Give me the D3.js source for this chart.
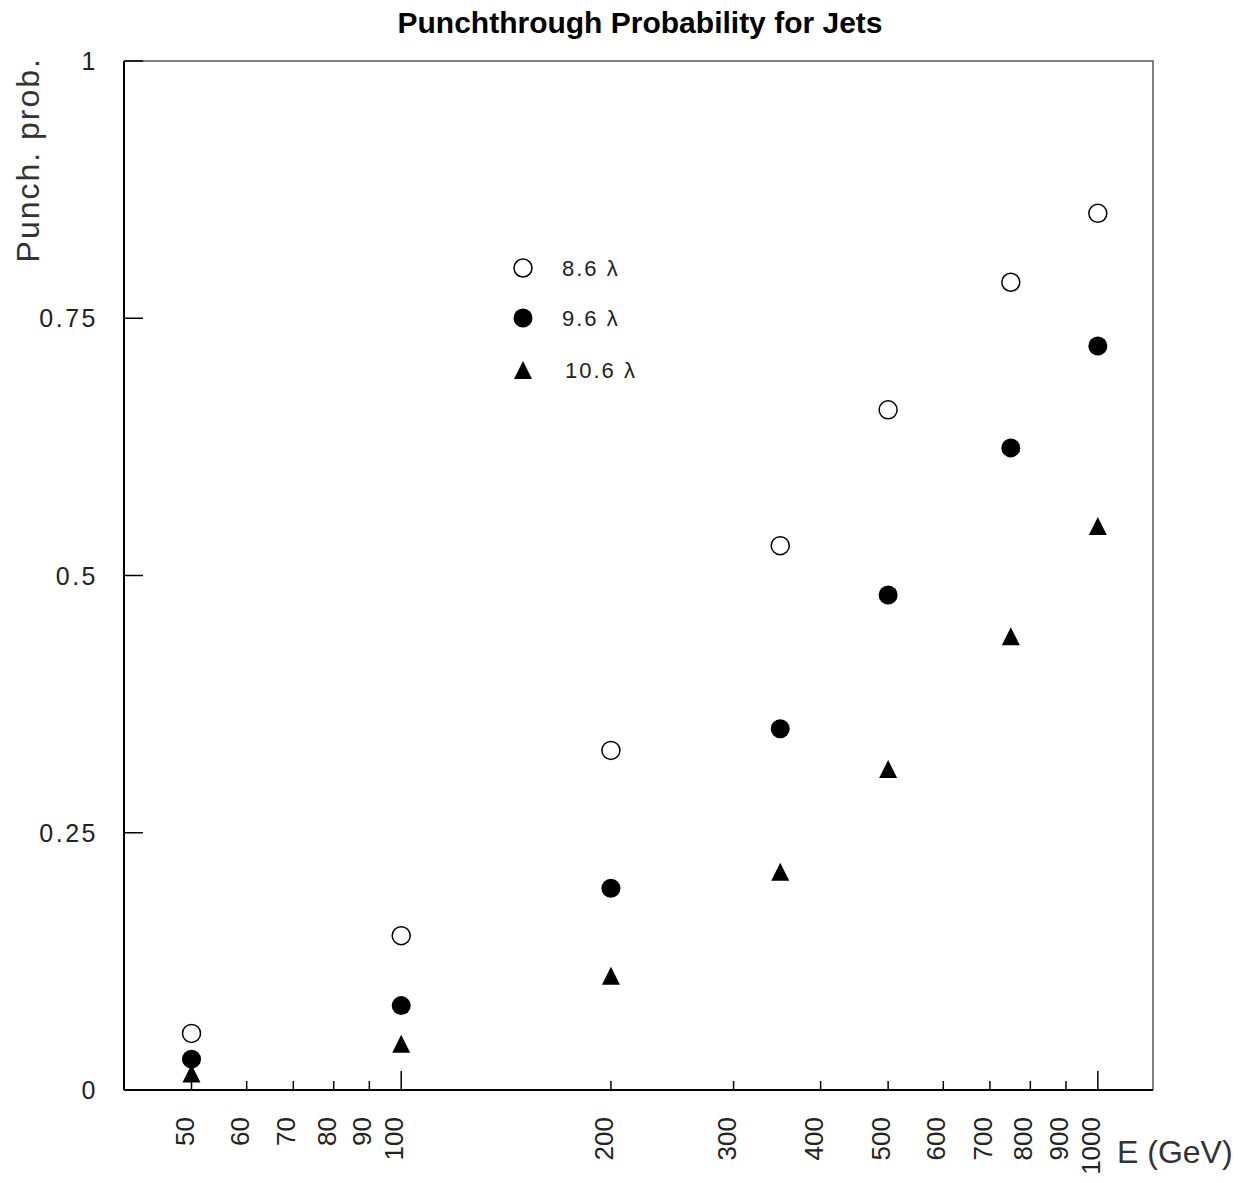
<!DOCTYPE html>
<html>
<head>
<meta charset="utf-8">
<script src="https://cdn.jsdelivr.net/npm/d3@7"></script>
<style>
  html, body { margin: 0; padding: 0; background: #fff; }
  svg { display: block; }
  text { font-family: "Liberation Sans", Arial, sans-serif; }
</style>
</head>
<body>
<script>
// ---- data ----
const energies = [50, 100, 200, 350, 500, 750, 1000];
const prob86  = [0.055, 0.150, 0.330, 0.529, 0.661, 0.785, 0.852];
const prob96  = [0.030, 0.082, 0.196, 0.351, 0.481, 0.624, 0.723];
const prob106 = [0.016, 0.045, 0.111, 0.212, 0.312, 0.441, 0.548];
const seriesNames = ["8.6 \u03bb", "9.6 \u03bb", "10.6 \u03bb"];
const xTickValues = [50, 60, 70, 80, 90, 100, 200, 300, 400, 500, 600, 700, 800, 900, 1000];
const xMajorTicks = [100, 1000];
const yTickValues = [0, 0.25, 0.5, 0.75, 1];
const yTickLabels = ["0", "0.25", "0.5", "0.75", "1"];

const W = 1255, H = 1183;
const svg = d3.select("body").append("svg").attr("width", W).attr("height", H);

const x = d3.scaleLog().domain([40, 1200]).range([124, 1153]);
const y = d3.scaleLinear().domain([0, 1]).range([1090, 61]);

// frame (top & right)
svg.append("path")
  .attr("d", `M${x(40)},${y(1)}H${x(1200)}V${y(0)}`)
  .attr("fill", "none").attr("stroke", "#555").attr("stroke-width", 1.5);

// x axis
const gx = svg.append("g").attr("transform", `translate(0,${y(0)})`);
gx.append("line").attr("x1", x(40)).attr("x2", x(1200)).attr("stroke", "#000").attr("stroke-width", 2);
gx.selectAll("line.tick").data(xTickValues).join("line")
  .attr("class", "tick")
  .attr("x1", d => x(d)).attr("x2", d => x(d))
  .attr("y1", 0).attr("y2", d => xMajorTicks.includes(d) ? -19 : -9)
  .attr("stroke", "#000").attr("stroke-width", 1.5);
gx.selectAll("text.lbl").data(xTickValues).join("text")
  .attr("class", "lbl")
  .attr("transform", d => `translate(${x(d) + 2},27) rotate(-90)`)
  .attr("text-anchor", "end")
  .attr("font-size", 26).attr("fill", "#222")
  .text(d => d);

// y axis
const gy = svg.append("g").attr("transform", `translate(${x(40)},0)`);
gy.append("line").attr("y1", y(0)).attr("y2", y(1)).attr("stroke", "#000").attr("stroke-width", 2);
gy.selectAll("line.tick").data(yTickValues).join("line")
  .attr("class", "tick")
  .attr("y1", d => y(d)).attr("y2", d => y(d))
  .attr("x1", 0).attr("x2", 19)
  .attr("stroke", "#000").attr("stroke-width", 1.5);
gy.selectAll("text.lbl").data(yTickValues).join("text")
  .attr("class", "lbl")
  .attr("x", -26).attr("y", d => y(d) + 9)
  .attr("text-anchor", "end")
  .attr("font-size", 25).attr("fill", "#222").attr("letter-spacing", 2.5)
  .text((d, i) => yTickLabels[i]);

// axis titles
svg.append("text")
  .attr("transform", `translate(39,57) rotate(-90)`)
  .attr("text-anchor", "end")
  .attr("font-size", 32).attr("fill", "#333").attr("letter-spacing", 2)
  .text("Punch. prob.");
svg.append("text")
  .attr("x", 1117).attr("y", 1163)
  .attr("font-size", 32).attr("fill", "#333")
  .text("E (GeV)");

// title
svg.append("text")
  .attr("x", 640).attr("y", 33)
  .attr("text-anchor", "middle")
  .attr("font-size", 30).attr("font-weight", "bold").attr("fill", "#000")
  .text("Punchthrough Probability for Jets");

// markers
const R = 9.5;
const tri = (cx, cy) => `M${cx},${cy - 9}L${cx + 9},${cy + 9}L${cx - 9},${cy + 9}Z`;

const data86 = energies.map((e, i) => ({e, p: prob86[i]}));
const data96 = energies.map((e, i) => ({e, p: prob96[i]}));
const data106 = energies.map((e, i) => ({e, p: prob106[i]}));

svg.append("g").selectAll("path").data(data106).join("path")
  .attr("d", d => tri(x(d.e), y(d.p))).attr("fill", "#000");
svg.append("g").selectAll("circle").data(data96).join("circle")
  .attr("cx", d => x(d.e)).attr("cy", d => y(d.p)).attr("r", R).attr("fill", "#000");
svg.append("g").selectAll("circle").data(data86).join("circle")
  .attr("cx", d => x(d.e)).attr("cy", d => y(d.p)).attr("r", R - 0.5)
  .attr("fill", "none").attr("stroke", "#000").attr("stroke-width", 1.5);

// legend
const lg = svg.append("g");
const legX = 523, legY = [268, 318, 370];
lg.append("circle").attr("cx", legX).attr("cy", legY[0]).attr("r", R - 0.5)
  .attr("fill", "none").attr("stroke", "#000").attr("stroke-width", 1.5);
lg.append("circle").attr("cx", legX).attr("cy", legY[1]).attr("r", R).attr("fill", "#000");
lg.append("path").attr("d", tri(legX, legY[2])).attr("fill", "#000");
lg.selectAll("text").data(seriesNames).join("text")
  .attr("x", (d, i) => i === 2 ? 565 : 562)
  .attr("y", (d, i) => legY[i] + 8)
  .attr("font-size", 22).attr("fill", "#222").attr("letter-spacing", 2)
  .text(d => d);
</script>
</body>
</html>
